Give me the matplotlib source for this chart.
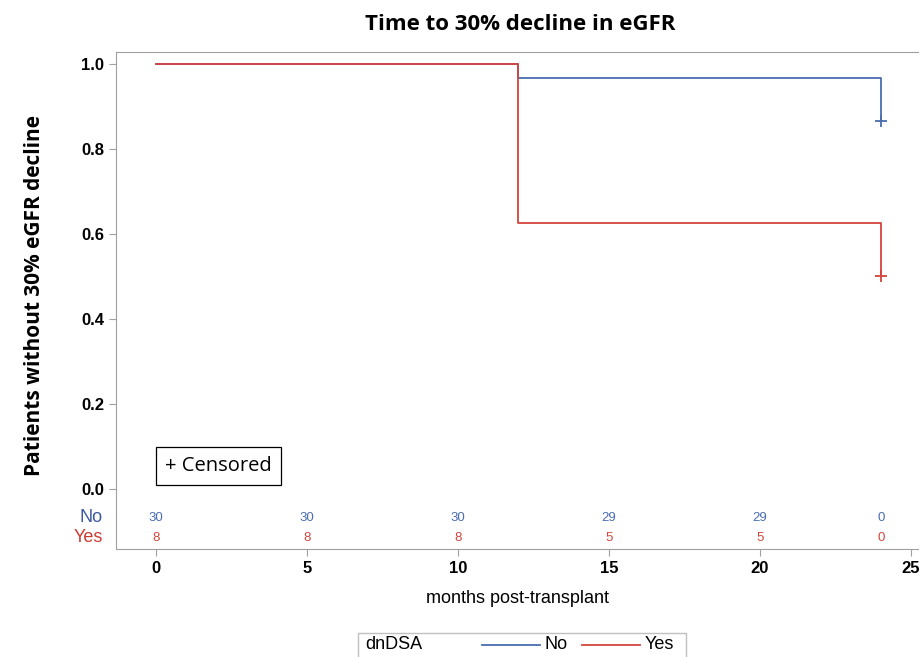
import numpy as np
import matplotlib.pyplot as plt

# Dados das curvas (Kaplan-Meier, degraus)
t_no = [0, 12, 24, 24]
s_no = [1.0, 0.966, 0.966, 0.866]
t_yes = [0, 12, 24, 24]
s_yes = [1.0, 0.625, 0.625, 0.5]

# Pontos censurados
cens_t_no = [24]
cens_s_no = [0.866]
cens_t_yes = [24]
cens_s_yes = [0.5]

# Numero em risco
risk_t = [0, 5, 10, 15, 20, 24]
risk_no = [30, 30, 30, 29, 29, 0]
risk_yes = [8, 8, 8, 5, 5, 0]

azul = '#4a6db0'
vermelho = '#d3453d'
cinza = '#a0a0a0'

fig = plt.figure(figsize=(9.2, 6.57), dpi=100)
ax = fig.add_axes([0.126, 0.1644, 0.874, 0.7565])

ax.step(t_no, s_no, where='post', color=azul, lw=1.3)
ax.step(t_yes, s_yes, where='post', color=vermelho, lw=1.3)
ax.plot(cens_t_no, cens_s_no, '+', color=azul, ms=9, mew=1.3)
ax.plot(cens_t_yes, cens_s_yes, '+', color=vermelho, ms=9, mew=1.3)

# Tabela de numero em risco dentro do eixo
for i in range(len(risk_t)):
    ax.text(risk_t[i], -0.068, str(risk_no[i]), color=azul, ha='center', va='center',
            fontsize=9.5, family='Liberation Sans')
    ax.text(risk_t[i], -0.115, str(risk_yes[i]), color=vermelho, ha='center', va='center',
            fontsize=9.5, family='Liberation Sans')
ax.text(-1.75, -0.068, 'No', color='#3f5aa0', ha='right', va='center', fontsize=13,
        family='Liberation Sans')
ax.text(-1.75, -0.115, 'Yes', color='#cc3b33', ha='right', va='center', fontsize=13,
        family='Liberation Sans')

ax.set_xlim(-1.32, 25.3)
ax.set_ylim(-0.141, 1.028)
ax.set_xticks([0, 5, 10, 15, 20, 25])
ax.set_yticks([0.0, 0.2, 0.4, 0.6, 0.8, 1.0])
ax.set_yticklabels(['0.0', '0.2', '0.4', '0.6', '0.8', '1.0'])
for s in ax.spines.values():
    s.set_color(cinza)
ax.tick_params(colors=cinza, labelcolor='black', labelsize=12, length=5)
for lab in ax.get_xticklabels() + ax.get_yticklabels():
    lab.set_family('Liberation Sans')
    lab.set_fontweight('bold')

ax.set_xlabel('months post-transplant', fontsize=13, family='Liberation Sans', labelpad=10)
fig.text(0.038, 0.55, 'Patients without 30% eGFR decline', rotation=90, ha='center', va='center',
         fontsize=15, fontweight='bold', family='Open Sans')
fig.text(0.565, 0.962, 'Time to 30% decline in eGFR', ha='center', va='center',
         fontsize=16, fontweight='bold', family='Open Sans')

# Caixa "+ Censored"
ax.text(0.3, 0.055, '+ Censored', fontsize=14.5, family='Open Sans', va='center', ha='left',
        bbox=dict(boxstyle='square,pad=0.45', fc='white', ec='black', lw=0.9))

# Legenda inferior
fig.text(0.397, 0.019, 'dnDSA', fontsize=13, family='Liberation Sans', va='center')
fig.add_artist(plt.Line2D([0.524, 0.587], [0.019, 0.019], color=azul, lw=1.3))
fig.text(0.592, 0.019, 'No', fontsize=13, family='Liberation Sans', va='center')
fig.add_artist(plt.Line2D([0.633, 0.696], [0.019, 0.019], color=vermelho, lw=1.3))
fig.text(0.701, 0.019, 'Yes', fontsize=13, family='Liberation Sans', va='center')
fig.add_artist(plt.Rectangle((0.389, -0.01), 0.357, 0.047, fill=False, ec='#c0c0c0', lw=1.0,
                             transform=fig.transFigure))

fig.savefig('out.png', dpi=100)
